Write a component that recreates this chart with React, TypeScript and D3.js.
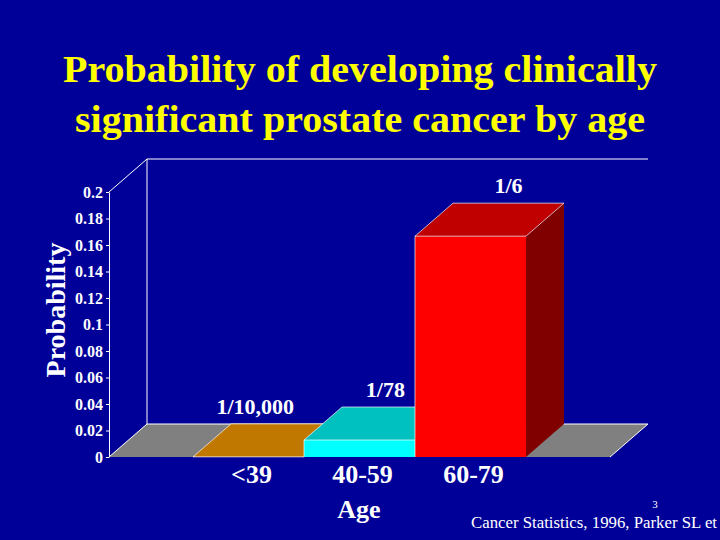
import React, { useEffect, useRef } from 'react';
import * as d3 from 'd3';

const categories = ['<39', '40-59', '60-79'];
const values = [1 / 10000, 1 / 78, 1 / 6];
const valueLabels = ['1/10,000', '1/78', '1/6'];
const frontColors = ['#FF9900', '#00FFFF', '#FF0000'];
const topColors = ['#C07800', '#00C0C0', '#C00000'];
const sideColors = ['#805000', '#008080', '#800000'];
const yTicks = [0, 0.02, 0.04, 0.06, 0.08, 0.1, 0.12, 0.14, 0.16, 0.18, 0.2];
const yTickLabels = ['0', '0.02', '0.04', '0.06', '0.08', '0.1', '0.12', '0.14', '0.16', '0.18', '0.2'];
const titleLines = ['Probability of developing clinically', 'significant prostate cancer by age'];
const titleWidths = [594, 570];

const BG = '#000099';
const FONT = '"Liberation Serif", "Times New Roman", serif';

const App: React.FC = () => {
	const svgRef = useRef<SVGSVGElement>(null);

	useEffect(() => {
		if (svgRef.current == null) return;
		const width = 720;
		const height = 540;
		const dx = 38; // depth offset
		const dy = -33;

		const svg = d3.select(svgRef.current)
			.attr('width', width)
			.attr('height', height);
		svg.selectAll('*').remove();

		svg.append('rect').attr('width', width).attr('height', height).attr('fill', BG);

		const x = d3.scaleBand<string>()
			.domain(categories)
			.range([109, 610])
			.paddingInner(0)
			.paddingOuter(0.757);

		const y = d3.scaleLinear()
			.domain([0, 0.2])
			.range([457, 192]);

		const x0 = 109, x1 = 610;
		const yb = y(0), yt = y(0.2);

		// title
		titleLines.forEach((t, i) => {
			svg.append('text')
				.attr('x', 360)
				.attr('y', 82 + i * 50)
				.attr('text-anchor', 'middle')
				.attr('textLength', titleWidths[i])
				.attr('lengthAdjust', 'spacingAndGlyphs')
				.style('font-family', FONT)
				.style('font-weight', 'bold')
				.style('font-size', '37px')
				.style('fill', '#FFFF00')
				.text(t);
		});

		// floor
		svg.append('path')
			.attr('d', `M${x0},${yb}L${x1},${yb}L${x1 + dx},${yb + dy}L${x0 + dx},${yb + dy}Z`)
			.attr('fill', '#808080');
		svg.append('path')
			.attr('d', `M${x0},${yb}L${x0 + dx},${yb + dy}L${x1 + dx},${yb + dy}L${x1},${yb}`)
			.attr('fill', 'none')
			.attr('stroke', '#ffffff')
			.attr('stroke-width', 1);

		// walls
		svg.append('path')
			.attr('d', `M${x0},${yt}L${x0 + dx},${yt + dy}L${x1 + dx},${yt + dy}M${x0 + dx},${yt + dy}L${x0 + dx},${yb + dy}`)
			.attr('fill', 'none')
			.attr('stroke', '#ffffff')
			.attr('stroke-width', 1);

		// bars
		const bw = x.bandwidth();
		categories.forEach((c, i) => {
			const bx = x(c) as number;
			const by = y(values[i]);
			const g = svg.append('g');
			// side
			g.append('path')
				.attr('d', `M${bx + bw},${yb}L${bx + bw},${by}L${bx + bw + dx},${by + dy}L${bx + bw + dx},${yb + dy}Z`)
				.attr('fill', sideColors[i]);
			// top
			g.append('path')
				.attr('d', `M${bx},${by}L${bx + bw},${by}L${bx + bw + dx},${by + dy}L${bx + dx},${by + dy}Z`)
				.attr('fill', topColors[i]);
			// front
			g.append('rect')
				.attr('x', bx)
				.attr('y', by)
				.attr('width', bw)
				.attr('height', yb - by)
				.attr('fill', frontColors[i]);
			// highlight edges
			g.append('path')
				.attr('d', `M${bx},${yb}L${bx},${by}L${bx + dx},${by + dy}L${bx + bw + dx},${by + dy}L${bx + bw},${by}L${bx},${by}`)
				.attr('fill', 'none')
				.attr('stroke', '#ffffff')
				.attr('stroke-width', 0.8)
				.attr('stroke-opacity', 0.85);
		});

		// value labels
		categories.forEach((c, i) => {
			const cx = (x(c) as number) + bw / 2 + dx;
			const by = y(values[i]) + dy;
			const txt = svg.append('text')
				.attr('x', cx)
				.attr('y', by - 10)
				.attr('text-anchor', 'middle')
				.style('font-family', FONT)
				.style('font-weight', 'bold')
				.style('font-size', '22px')
				.style('fill', '#ffffff')
				.text(valueLabels[i]);
			// keep label clear of the next (taller) bar
			if (i < categories.length - 1 && values[i + 1] > values[i]) {
				const node = txt.node() as SVGTextElement;
				const w = node.getComputedTextLength();
				const limit = (x(categories[i + 1]) as number) - 10;
				if (cx + w / 2 > limit) txt.attr('x', limit - w / 2);
			}
		});

		// y axis
		const axis = svg.append('g')
			.attr('transform', `translate(${x0},0)`)
			.call(d3.axisLeft(y)
				.tickValues(yTicks)
				.tickFormat((_d, i) => yTickLabels[i])
				.tickSize(3)
				.tickSizeOuter(0)
				.tickPadding(3));
		axis.select('.domain').attr('stroke', '#ffffff');
		axis.selectAll('line').attr('stroke', '#ffffff');
		axis.selectAll('text')
			.attr('fill', '#ffffff')
			.style('font-family', FONT)
			.style('font-weight', 'bold')
			.style('font-size', '16px');

		// y label
		svg.append('text')
			.attr('transform', `translate(65,310) rotate(-90)`)
			.attr('text-anchor', 'middle')
			.style('font-family', FONT)
			.style('font-weight', 'bold')
			.style('font-size', '28px')
			.style('fill', '#ffffff')
			.text('Probability');

		// category labels
		categories.forEach(c => {
			svg.append('text')
				.attr('x', (x(c) as number) + bw / 2 + 3)
				.attr('y', 483)
				.attr('text-anchor', 'middle')
				.style('font-family', FONT)
				.style('font-weight', 'bold')
				.style('font-size', '26px')
				.style('fill', '#ffffff')
				.text(c);
		});

		svg.append('text')
			.attr('x', 359)
			.attr('y', 518)
			.attr('text-anchor', 'middle')
			.style('font-family', FONT)
			.style('font-weight', 'bold')
			.style('font-size', '26px')
			.style('fill', '#ffffff')
			.text('Age');

		// slide number and source
		svg.append('text')
			.attr('x', 655)
			.attr('y', 508)
			.attr('text-anchor', 'middle')
			.style('font-family', FONT)
			.style('font-size', '11px')
			.style('fill', '#ffffff')
			.text('3');

		svg.append('text')
			.attr('x', 471)
			.attr('y', 528)
			.attr('textLength', 246)
			.attr('lengthAdjust', 'spacingAndGlyphs')
			.style('font-family', FONT)
			.style('font-size', '16.5px')
			.style('fill', '#ffffff')
			.text('Cancer Statistics, 1996, Parker SL et');
	}, []);

	return <svg ref={svgRef} style={{ position: 'absolute', left: 0, top: 0, display: 'block' }}></svg>;
};

export default App;
